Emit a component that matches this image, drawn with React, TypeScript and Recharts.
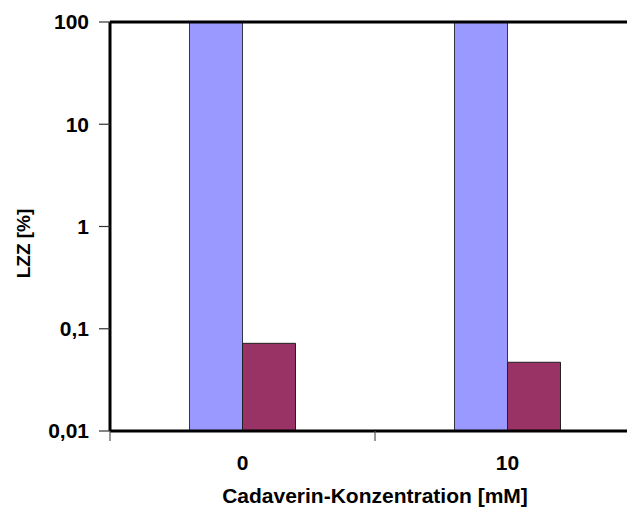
import React from 'react';
import { BarChart, Bar, XAxis, YAxis, ReferenceLine, Label } from 'recharts';

const categories = ['0', '10'];
const seriesBlue = [100, 100];
const seriesRed = [0.072, 0.047];
const yTicks = [0.01, 0.1, 1, 10, 100];

const data = categories.map((c, i) => ({ conc: c, blue: seriesBlue[i], red: seriesRed[i] }));

const FONT = "'Liberation Sans', Arial, sans-serif";
const FS = 21;

const CatTick = (props: any) => {
  const { x, y, payload } = props;
  const off = payload && typeof payload.offset === 'number' ? payload.offset : 0;
  return (
    <g>
      <line x1={x - off} x2={x - off} y1={y} y2={y + 10} stroke="#555" strokeWidth={1.2} />
      <text x={x} y={y + 39} textAnchor="middle" fill="#000" fontWeight="bold" fontSize={FS} fontFamily={FONT}>
        {payload.value}
      </text>
    </g>
  );
};

const XTitle = (props: any) => {
  const vb = props.viewBox || {};
  const cx = vb.x + vb.width / 2;
  const by = vb.y + vb.height - 6;
  return (
    <text x={cx} y={by} textAnchor="middle" fill="#000" fontWeight="bold" fontSize={FS} fontFamily={FONT}>
      Cadaverin-Konzentration [mM]
    </text>
  );
};

const YTitle = (props: any) => {
  const vb = props.viewBox || {};
  const cx = vb.x + 30;
  const cy = vb.y + vb.height / 2 + 17;
  return (
    <text
      x={cx}
      y={cy}
      transform={`rotate(-90 ${cx} ${cy})`}
      textAnchor="middle"
      fill="#000"
      fontWeight="bold"
      fontSize={19}
      fontFamily={FONT}
    >
      LZZ [%]
    </text>
  );
};

export default function App() {
  return (
    <div style={{ position: 'absolute', left: 0, top: 0, width: 627, height: 509, overflow: 'hidden', background: '#fff' }}>
      <BarChart
        width={650}
        height={509}
        data={data}
        margin={{ top: 22, right: 10, bottom: 0, left: 0 }}
        barCategoryGap="30%"
        barGap={0}
        baseValue="dataMin"
      >
        <XAxis
          dataKey="conc"
          type="category"
          height={78}
          tickLine={false}
          tickSize={0}
          tickMargin={0}
          tick={<CatTick />}
          axisLine={{ stroke: '#000', strokeWidth: 3 }}
          interval={0}
        >
          <Label content={<XTitle />} />
        </XAxis>
        <YAxis
          type="number"
          scale="log"
          domain={[0.01, 100]}
          ticks={yTicks}
          allowDataOverflow
          width={110}
          tickSize={11}
          tickMargin={10}
          tickLine={{ stroke: '#333', strokeWidth: 1.2 }}
          axisLine={{ stroke: '#000', strokeWidth: 3 }}
          tickFormatter={(v: number) => String(v).replace('.', ',')}
          tick={{ fill: '#000', fontWeight: 'bold', fontSize: FS, fontFamily: FONT }}
        >
          <Label content={<YTitle />} />
        </YAxis>
        <ReferenceLine y={100} stroke="#000" strokeWidth={3} />
        <Bar dataKey="blue" fill="#9999ff" stroke="#333344" strokeWidth={1} isAnimationActive={false} />
        <Bar dataKey="red" fill="#993366" stroke="#222" strokeWidth={1} isAnimationActive={false} />
      </BarChart>
    </div>
  );
}
